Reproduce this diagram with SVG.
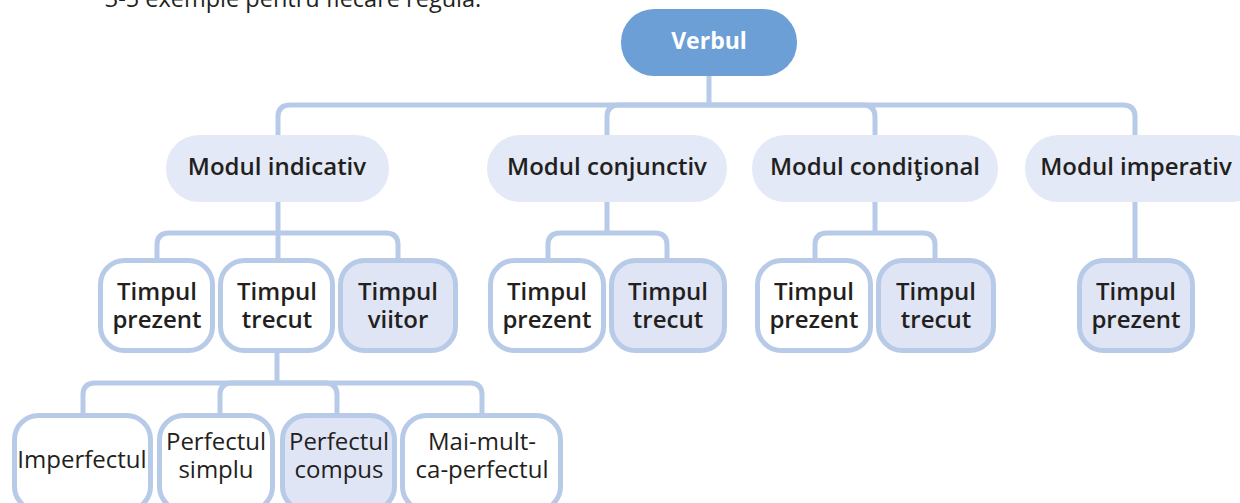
<svg xmlns="http://www.w3.org/2000/svg" width="1240" height="503" viewBox="0 0 1240 503">
<style>
.c{fill:none;stroke:#b7cbe8;stroke-width:5}
.pill{fill:#e3e9f6}
.box{fill:#ffffff;stroke:#b7cbe8;stroke-width:5}
.boxf{fill:#dfe5f4;stroke:#b7cbe8;stroke-width:5}
text{font-family:"Open Sans","Noto Sans","DejaVu Sans",sans-serif;fill:#231f20;text-anchor:middle}
.s{font-size:24px;font-weight:600}
.r{font-size:24px;font-weight:400}
</style>
<rect width="1240" height="503" fill="#ffffff"/>
<text x="293" y="7" style="font-size:23.5px;font-weight:400" fill="#231f20">3-5 exemple pentru fiecare regulă.</text>
<g id="connectors">
<path class="c" d="M709,76 V105"/>
<path class="c" d="M709,105 H290 Q278,105 278,117 V135"/>
<path class="c" d="M709,105 H619 Q607,105 607,117 V135"/>
<path class="c" d="M709,105 H863 Q875,105 875,117 V135"/>
<path class="c" d="M709,105 H1123 Q1135,105 1135,117 V135"/>
<path class="c" d="M278,202 V260"/>
<path class="c" d="M278,233 H169 Q157,233 157,245 V260"/>
<path class="c" d="M278,233 H386 Q398,233 398,245 V260"/>
<path class="c" d="M607,202 V233"/>
<path class="c" d="M607,233 H560 Q548,233 548,245 V260"/>
<path class="c" d="M607,233 H655 Q667,233 667,245 V260"/>
<path class="c" d="M875,202 V233"/>
<path class="c" d="M875,233 H827 Q815,233 815,245 V260"/>
<path class="c" d="M875,233 H923 Q935,233 935,245 V260"/>
<path class="c" d="M1135,202 V260"/>
<path class="c" d="M277,352 V383"/>
<path class="c" d="M277,383 H95 Q83,383 83,395 V415"/>
<path class="c" d="M277,383 H232 Q220,383 220,395 V415"/>
<path class="c" d="M277,383 H325 Q337,383 337,395 V415"/>
<path class="c" d="M277,383 H470 Q482,383 482,395 V415"/>
</g>
<g id="verbul">
<rect x="621" y="9" width="176" height="67" rx="33" fill="#6b9fd5"/>
<text x="709" y="49" style="font-size:23px;font-weight:700;fill:#ffffff">Verbul</text>
</g>
<g id="modul-indicativ">
<rect class="pill" x="166" y="135" width="223" height="67" rx="33"/>
<text class="s" x="277" y="175">Modul indicativ</text>
</g>
<g id="modul-conjunctiv">
<rect class="pill" x="487" y="135" width="240" height="67" rx="33"/>
<text class="s" x="607" y="175">Modul conjunctiv</text>
</g>
<g id="modul-conditional">
<rect class="pill" x="752" y="135" width="246" height="67" rx="33"/>
<text class="s" x="875" y="175">Modul condiţional</text>
</g>
<g id="modul-imperativ">
<rect class="pill" x="1025" y="135" width="240" height="67" rx="33"/>
<text class="s" x="1136" y="175">Modul imperativ</text>
</g>
<g id="ind-prezent">
<rect class="box" x="100.5" y="260.5" width="112" height="90" rx="24"/>
<text class="s" x="157" y="300">Timpul</text>
<text class="s" x="157" y="328">prezent</text>
</g>
<g id="ind-trecut">
<rect class="box" x="220.5" y="260.5" width="112" height="90" rx="24"/>
<text class="s" x="277" y="300">Timpul</text>
<text class="s" x="277" y="328">trecut</text>
</g>
<g id="ind-viitor">
<rect class="boxf" x="340.5" y="260.5" width="115" height="90" rx="24"/>
<text class="s" x="398" y="300">Timpul</text>
<text class="s" x="398" y="328">viitor</text>
</g>
<g id="conj-prezent">
<rect class="box" x="490.5" y="260.5" width="113" height="90" rx="24"/>
<text class="s" x="547" y="300">Timpul</text>
<text class="s" x="547" y="328">prezent</text>
</g>
<g id="conj-trecut">
<rect class="boxf" x="611.5" y="260.5" width="113" height="90" rx="24"/>
<text class="s" x="668" y="300">Timpul</text>
<text class="s" x="668" y="328">trecut</text>
</g>
<g id="cond-prezent">
<rect class="box" x="757.5" y="260.5" width="113" height="90" rx="24"/>
<text class="s" x="814" y="300">Timpul</text>
<text class="s" x="814" y="328">prezent</text>
</g>
<g id="cond-trecut">
<rect class="boxf" x="878.5" y="260.5" width="115" height="90" rx="24"/>
<text class="s" x="936" y="300">Timpul</text>
<text class="s" x="936" y="328">trecut</text>
</g>
<g id="imp-prezent">
<rect class="boxf" x="1079.5" y="260.5" width="113" height="90" rx="24"/>
<text class="s" x="1136" y="300">Timpul</text>
<text class="s" x="1136" y="328">prezent</text>
</g>
<g id="imperfectul">
<rect class="box" x="14.5" y="415.5" width="136" height="95" rx="24"/>
<text class="r" x="82" y="468">Imperfectul</text>
</g>
<g id="perfectul-simplu">
<rect class="box" x="159.5" y="415.5" width="113" height="95" rx="24"/>
<text class="r" x="216" y="450">Perfectul</text>
<text class="r" x="216" y="478">simplu</text>
</g>
<g id="perfectul-compus">
<rect class="boxf" x="282.5" y="415.5" width="112" height="95" rx="24"/>
<text class="r" x="339" y="450">Perfectul</text>
<text class="r" x="339" y="478">compus</text>
</g>
<g id="mai-mult-ca-perfectul">
<rect class="box" x="402.5" y="415.5" width="158" height="95" rx="24"/>
<text class="r" x="482" y="450">Mai-mult-</text>
<text class="r" x="482" y="478">ca-perfectul</text>
</g>
</svg>
